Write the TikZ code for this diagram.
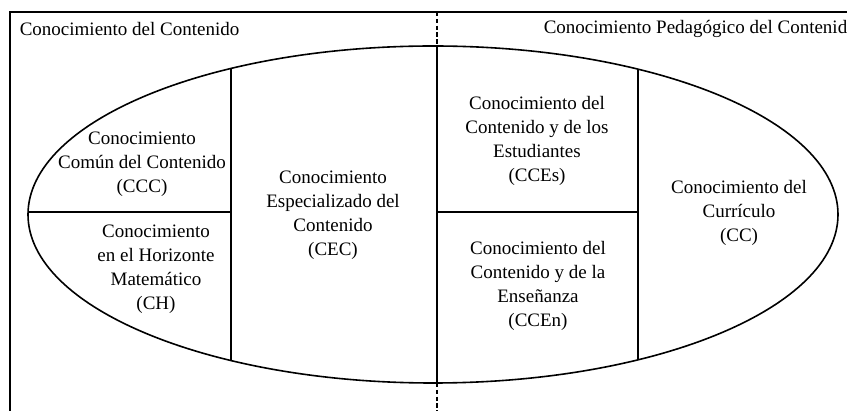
\documentclass[tikz,border=0pt]{standalone}
\usepackage{fontspec}
\setmainfont{Liberation Serif}
\usepackage{tikz}

\tikzset{
  part/.style={align=center, inner sep=0pt, font=\fontsize{9.5}{12}\selectfont},
  heading/.style={anchor=west, inner sep=0pt, font=\fontsize{9.5}{12}\selectfont},
  divider/.style={dash pattern=on 2.2pt off 1.2pt}
}

\begin{document}
\begin{tikzpicture}[x=0.5pt, y=-0.5pt, line width=0.8pt]
    \useasboundingbox (0,0) rectangle (847,411);
    \clip (0,0) rectangle (847,411);

    \coordinate (O) at (433,214.5);

    \draw (10,411) -- (10,12) -- (847,12);
    \draw[divider] (437,12) -- (437,46);
    \draw[divider] (437,383) -- (437,411);

    \begin{scope}
        \clip (O) ellipse [x radius=405, y radius=168.5];
        \draw (231,0) -- (231,411);
        \draw (437,0) -- (437,411);
        \draw (638,0) -- (638,411);
        \draw (0,212) -- (231,212);
        \draw (437,212) -- (638,212);
    \end{scope}
    \draw (O) ellipse [x radius=405, y radius=168.5];

    \node[heading] (CK) at (19,29) {Conocimiento del Contenido};
    \node[heading] (PCK) at (543,29) {Conocimiento Pedagógico del Contenido};

    \node[part] (CCC) at (142,164) {Conocimiento\\Común del Contenido\\(CCC)};
    \node[part] (CH) at (156,269) {Conocimiento\\en el Horizonte\\Matemático\\(CH)};
    \node[part] (CEC) at (333,215) {Conocimiento\\Especializado del\\Contenido\\(CEC)};
    \node[part] (CCEs) at (537,141) {Conocimiento del\\Contenido y de los\\Estudiantes\\(CCEs)};
    \node[part] (CCEn) at (538,286) {Conocimiento del\\Contenido y de la\\Enseñanza\\(CCEn)};
    \node[part] (CC) at (739,213) {Conocimiento del\\Currículo\\(CC)};
\end{tikzpicture}
\end{document}
